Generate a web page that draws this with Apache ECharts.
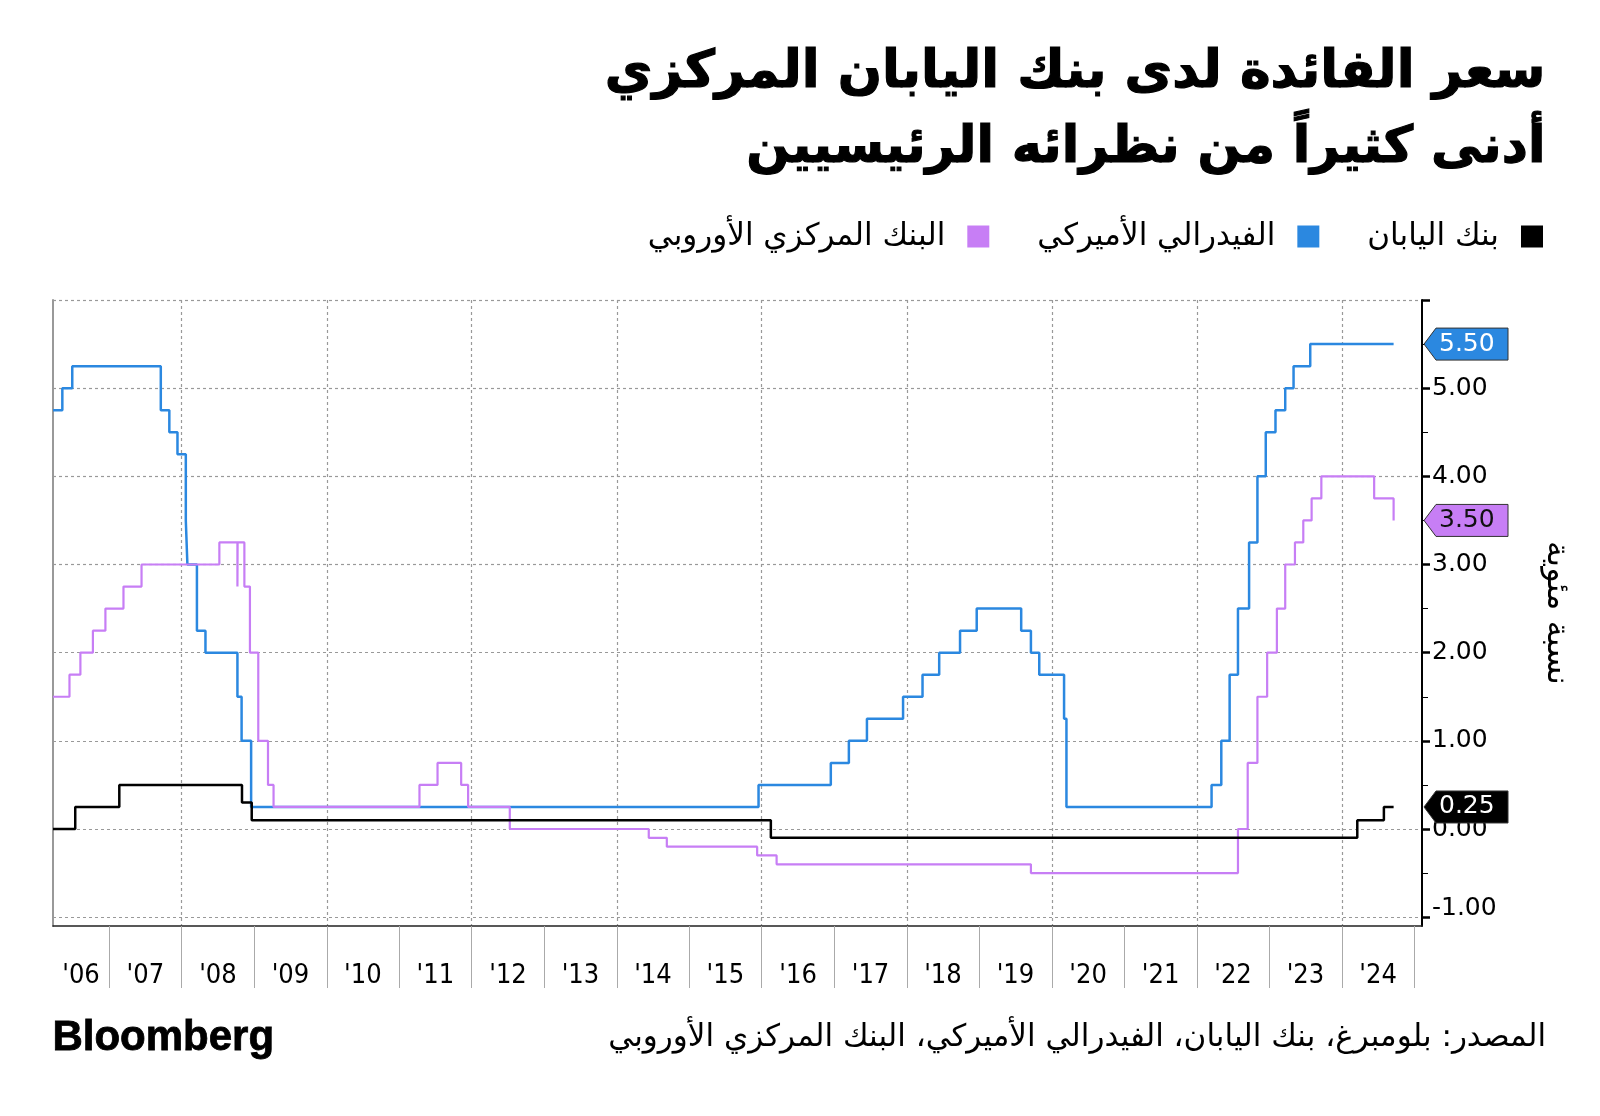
<!DOCTYPE html>
<html><head><meta charset="utf-8">
<script src="https://cdn.jsdelivr.net/npm/echarts@6/dist/echarts.min.js"></script>
<style>html,body{margin:0;padding:0;background:#fff}#c{width:1600px;height:1116px}</style>
</head><body><div id="c"></div>
<script>
const titleLines = ['سعر الفائدة لدى بنك اليابان المركزي', 'أدنى كثيراً من نظرائه الرئيسيين'];
const seriesNames = ['بنك اليابان', 'الفيدرالي الأميركي', 'البنك المركزي الأوروبي'];
const legendOrder = ['البنك المركزي الأوروبي', 'الفيدرالي الأميركي', 'بنك اليابان'];
const sourceText = 'المصدر: بلومبرغ، بنك اليابان، الفيدرالي الأميركي، البنك المركزي الأوروبي';
const axisName = 'نسبة مئوية';
const brandText = 'Bloomberg';

const xMin = '2006-03-24';
const xMax = '2025-02-08';

const bojRates = [
  ['2006-03-24', 0.00], ['2006-07-14', 0.25], ['2007-02-21', 0.50], ['2008-10-31', 0.30],
  ['2008-12-19', 0.10], ['2016-02-16', -0.10], ['2024-03-19', 0.10], ['2024-07-31', 0.25],
  ['2024-09-18', 0.25]
];
const fedRates = [
  ['2006-03-24', 4.75], ['2006-05-10', 5.00], ['2006-06-29', 5.25], ['2007-09-18', 4.75],
  ['2007-10-31', 4.50], ['2007-12-11', 4.25], ['2008-01-22', 3.50], ['2008-01-30', 3.00],
  ['2008-03-18', 2.25], ['2008-04-30', 2.00], ['2008-10-08', 1.50], ['2008-10-29', 1.00],
  ['2008-12-16', 0.25], ['2015-12-16', 0.50], ['2016-12-14', 0.75], ['2017-03-15', 1.00],
  ['2017-06-14', 1.25], ['2017-12-13', 1.50], ['2018-03-21', 1.75], ['2018-06-13', 2.00],
  ['2018-09-26', 2.25], ['2018-12-19', 2.50], ['2019-07-31', 2.25], ['2019-09-18', 2.00],
  ['2019-10-30', 1.75], ['2020-03-03', 1.25], ['2020-03-15', 0.25], ['2022-03-16', 0.50],
  ['2022-05-04', 1.00], ['2022-06-15', 1.75], ['2022-07-27', 2.50], ['2022-09-21', 3.25],
  ['2022-11-02', 4.00], ['2022-12-14', 4.50], ['2023-02-01', 4.75], ['2023-03-22', 5.00],
  ['2023-05-03', 5.25], ['2023-07-26', 5.50], ['2024-09-18', 5.50]
];
const ecbRates = [
  ['2006-03-24', 1.50], ['2006-06-15', 1.75], ['2006-08-09', 2.00], ['2006-10-11', 2.25],
  ['2006-12-13', 2.50], ['2007-03-14', 2.75], ['2007-06-13', 3.00], ['2008-07-09', 3.25],
  ['2008-10-08', 2.75], ['2008-10-09', 3.25], ['2008-11-12', 2.75], ['2008-12-10', 2.00],
  ['2009-01-21', 1.00], ['2009-03-11', 0.50], ['2009-04-08', 0.25], ['2011-04-13', 0.50],
  ['2011-07-13', 0.75], ['2011-11-09', 0.50], ['2011-12-14', 0.25], ['2012-07-11', 0.00],
  ['2014-06-11', -0.10], ['2014-09-10', -0.20], ['2015-12-09', -0.30], ['2016-03-16', -0.40],
  ['2019-09-18', -0.50], ['2022-07-27', 0.00], ['2022-09-14', 0.75], ['2022-11-02', 1.50],
  ['2022-12-21', 2.00], ['2023-02-08', 2.50], ['2023-03-22', 3.00], ['2023-05-10', 3.25],
  ['2023-06-21', 3.50], ['2023-08-02', 3.75], ['2023-09-20', 4.00], ['2024-06-12', 3.75],
  ['2024-09-18', 3.50]
];

const yTickValues = [-1, 0, 1, 2, 3, 4, 5, 6];
const yLabelValues = [-1, 0, 1, 2, 3, 4, 5];
const yMinorValues = [-0.5, 0.5, 1.5, 2.5, 3.5, 4.5, 5.5];
const yearBoundaries = ['2007-01-01','2008-01-01','2009-01-01','2010-01-01','2011-01-01','2012-01-01',
  '2013-01-01','2014-01-01','2015-01-01','2016-01-01','2017-01-01','2018-01-01','2019-01-01',
  '2020-01-01','2021-01-01','2022-01-01','2023-01-01','2024-01-01','2025-01-01'];
const gridYears = ['2008-01-01','2010-01-01','2012-01-01','2014-01-01','2016-01-01','2018-01-01',
  '2020-01-01','2022-01-01','2024-01-01'];
const yearLabelDates = ['2006-08-12','2007-07-02','2008-07-02','2009-07-02','2010-07-02','2011-07-02',
  '2012-07-02','2013-07-02','2014-07-02','2015-07-02','2016-07-02','2017-07-02','2018-07-02',
  '2019-07-02','2020-07-02','2021-07-02','2022-07-02','2023-07-02','2024-07-02'];

const colors = { boj: '#000000', fed: '#2b88e0', ecb: '#c77ef5' };
const arFont = '"DejaVu Sans", sans-serif';
const numFont = '"DejaVu Sans", sans-serif';

const P = v => echarts.time.parse(v).getTime();

const chart = echarts.init(document.getElementById('c'), null, { renderer: 'canvas' });

const baseGraphic = [
  { id: 'title1', type: 'text', right: 54, top: 47, z: 10,
    style: { text: titleLines[0], fill: '#000', stroke: '#000', lineWidth: 1.2,
      font: 'bold 52px ' + arFont } },
  { id: 'title2', type: 'text', right: 54, top: 123, z: 10,
    style: { text: titleLines[1], fill: '#000', stroke: '#000', lineWidth: 1.2,
      font: 'bold 51px ' + arFont } },
  { id: 'brand', type: 'text', left: 52, top: 1017, z: 10,
    style: { text: brandText, fill: '#000', stroke: '#000', lineWidth: 0.8,
      font: 'bold 42px "Liberation Sans", Arial, sans-serif' } },
  { id: 'source', type: 'text', right: 54, top: 1022, z: 10,
    style: { text: sourceText, fill: '#000', font: '31px ' + arFont } }
];

const lineSeries = (name, data, color, z, w) => ({
  name, type: 'line', step: 'end', showSymbol: false, symbol: 'none',
  data: data.map(d => [P(d[0]), d[1]]),
  lineStyle: { color, width: w }, itemStyle: { color }, z, animation: false
});

chart.setOption({
  animation: false,
  backgroundColor: '#fff',
  grid: { left: 53, right: 178, top: 300, bottom: 190, containLabel: false },
  legend: {
    data: legendOrder, right: 52, top: 216, align: 'right', icon: 'rect',
    itemWidth: 22, itemHeight: 22, itemGap: 48,
    textStyle: { fontSize: 31, fontFamily: arFont, color: '#000', padding: [0, 17, 0, 0] }
  },
  xAxis: [
    {
      type: 'value', min: P(xMin), max: P(xMax), position: 'bottom',
      axisLine: { show: true, onZero: false, lineStyle: { color: '#222', width: 1.5 } },
      axisTick: { show: true, customValues: yearBoundaries.map(P), length: 62, lineStyle: { color: '#aaa', width: 1 } },
      axisLabel: { show: true, customValues: yearLabelDates.map(P), margin: 36,
        fontSize: 27, fontFamily: '"DejaVu Sans Condensed", "DejaVu Sans", sans-serif', color: '#000',
        formatter: v => "'" + String(new Date(v).getFullYear()).slice(2) },
      splitLine: { show: false }
    },
    {
      type: 'value', min: P(xMin), max: P(xMax), position: 'bottom',
      axisLine: { show: false, onZero: false },
      axisTick: { show: false, customValues: gridYears.map(P) },
      axisLabel: { show: false },
      splitLine: { show: true, lineStyle: { color: '#999', type: [3, 3], width: 1.2 } }
    }
  ],
  yAxis: [
    {
      type: 'value', position: 'right', min: -1.1, max: 6,
      name: axisName, nameLocation: 'middle', nameGap: 118, nameRotate: -90,
      nameTextStyle: { fontSize: 32, fontFamily: arFont, color: '#000' },
      axisLine: { show: true, onZero: false, lineStyle: { color: '#000', width: 2 } },
      axisTick: { show: true, customValues: yTickValues, length: 8, lineStyle: { color: '#000', width: 2.5 } },
      axisLabel: { show: true, customValues: yLabelValues, margin: 10, fontSize: 25, fontFamily: numFont, color: '#000',
        formatter: v => v === -1 ? '{lo|' + v.toFixed(2) + '}' : v.toFixed(2),
        rich: { lo: { fontSize: 25, fontFamily: numFont, color: '#000', padding: [0, 0, 17, 0] } } },
      splitLine: { show: true, lineStyle: { color: '#999', type: [3, 3], width: 1.2 } }
    },
    {
      type: 'value', position: 'right', min: -1.1, max: 6,
      axisLine: { show: false, onZero: false },
      axisTick: { show: true, customValues: yMinorValues, length: 6, lineStyle: { color: '#000', width: 1 } },
      axisLabel: { show: false },
      splitLine: { show: false }
    },
    {
      type: 'value', position: 'left', min: -1.1, max: 6,
      axisLine: { show: true, onZero: false, lineStyle: { color: '#999', width: 2 } },
      axisTick: { show: false }, axisLabel: { show: false }, splitLine: { show: false }
    }
  ],
  series: [
    lineSeries(seriesNames[1], fedRates, colors.fed, 2, 2.5),
    lineSeries(seriesNames[2], ecbRates, colors.ecb, 3, 2.2),
    lineSeries(seriesNames[0], bojRates, colors.boj, 4, 2.5)
  ],
  graphic: baseGraphic
});

// end-value tags placed through the chart's own scales
const tagSpecs = [
  { key: 'fed', v: fedRates[fedRates.length - 1][1], fill: colors.fed, text: '#ffffff' },
  { key: 'ecb', v: ecbRates[ecbRates.length - 1][1], fill: colors.ecb, text: '#111111' },
  { key: 'boj', v: bojRates[bojRates.length - 1][1], fill: colors.boj, text: '#ffffff' }
];
const x0 = chart.convertToPixel({ xAxisIndex: 0 }, P(xMax)) + 2;
const tagW = 84, tagH = 32, tip = 12;
const tagGraphic = [];
tagSpecs.forEach(t => {
  const y = chart.convertToPixel({ yAxisIndex: 0 }, t.v);
  tagGraphic.push({
    id: 'tag-' + t.key, type: 'polygon', z: 20,
    shape: { points: [[x0, y], [x0 + tip, y - tagH / 2], [x0 + tagW, y - tagH / 2], [x0 + tagW, y + tagH / 2], [x0 + tip, y + tagH / 2]] },
    style: { fill: t.fill, stroke: '#333', lineWidth: 1 }
  });
  tagGraphic.push({
    id: 'tagtext-' + t.key, type: 'text', z: 21,
    x: x0 + 15, y: y,
    style: { text: t.v.toFixed(2), fill: t.text, font: '25px ' + numFont, verticalAlign: 'middle', align: 'left' }
  });
});
chart.setOption({ graphic: baseGraphic.concat(tagGraphic) });
</script></body></html>
